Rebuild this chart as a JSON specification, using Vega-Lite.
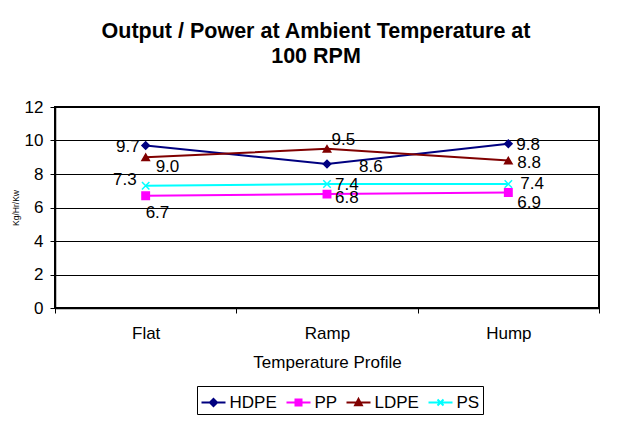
{
  "$schema": "https://vega.github.io/schema/vega-lite/v6.json",
  "width": 544,
  "height": 201,
  "autosize": {"type": "none"},
  "padding": {"left": 55, "top": 107, "right": 23, "bottom": 115},
  "background": "white",
  "config": {
    "font": "Liberation Sans",
    "view": {"stroke": "black", "strokeWidth": 2},
    "axis": {"labelColor": "black", "titleColor": "black", "labelFont": "Liberation Sans", "titleFont": "Liberation Sans"}
  },
  "title": {
    "text": ["Output / Power at Ambient Temperature at", "100 RPM"],
    "fontSize": 21.5,
    "fontWeight": "bold",
    "color": "black",
    "lineHeight": 25,
    "anchor": "middle",
    "dx": -11,
    "offset": 31
  },
  "data": {
    "values": [
      {"series": "HDPE", "profile": "Flat", "value": 9.7},
      {"series": "HDPE", "profile": "Ramp", "value": 8.6},
      {"series": "HDPE", "profile": "Hump", "value": 9.8},
      {"series": "PP", "profile": "Flat", "value": 6.7},
      {"series": "PP", "profile": "Ramp", "value": 6.8},
      {"series": "PP", "profile": "Hump", "value": 6.9},
      {"series": "LDPE", "profile": "Flat", "value": 9.0},
      {"series": "LDPE", "profile": "Ramp", "value": 9.5},
      {"series": "LDPE", "profile": "Hump", "value": 8.8},
      {"series": "PS", "profile": "Flat", "value": 7.3},
      {"series": "PS", "profile": "Ramp", "value": 7.4},
      {"series": "PS", "profile": "Hump", "value": 7.4}
    ]
  },
  "encoding": {
    "x": {
      "field": "profile",
      "type": "nominal",
      "bandPosition": 0.5,
      "scale": {"type": "band", "domain": ["Flat", "Ramp", "Hump"], "paddingInner": 0, "paddingOuter": 0},
      "axis": {
        "title": "Temperature Profile",
        "tickBand": "extent",
        "labelAngle": 0,
        "grid": false,
        "domainColor": "black",
        "domainWidth": 1.5,
        "tickColor": "black",
        "tickWidth": 1,
        "tickSize": 5,
        "labelPadding": 12,
        "labelFontSize": 17,
        "titleFontSize": 17,
        "titleFontWeight": "normal",
        "titlePadding": 13
      }
    },
    "y": {
      "field": "value",
      "type": "quantitative",
      "scale": {"domain": [0, 12], "nice": false},
      "axis": {
        "title": "Kg/Hr/Kw",
        "titleFontSize": 8.5,
        "titleFontWeight": "normal",
        "titlePadding": 4,
        "values": [0, 2, 4, 6, 8, 10, 12],
        "grid": true,
        "gridColor": "black",
        "gridWidth": 1.2,
        "gridOpacity": 1,
        "domainColor": "black",
        "domainWidth": 1.5,
        "tickColor": "black",
        "tickSize": 5,
        "labelPadding": 7,
        "labelFontSize": 17
      }
    }
  },
  "layer": [
    {
      "mark": {"type": "line", "strokeWidth": 2},
      "encoding": {
        "color": {"field": "series", "type": "nominal", "scale": {"domain": ["HDPE", "PP", "LDPE", "PS"], "range": ["#000080", "#FF00FF", "#800000", "#00FFFF"]}, "legend": null}
      }
    },
    {
      "mark": {"type": "point", "filled": true, "size": 55, "strokeWidth": 1.5, "opacity": 1},
      "encoding": {
        "color": {"field": "series", "type": "nominal", "scale": {"domain": ["HDPE", "PP", "LDPE", "PS"], "range": ["#000080", "#FF00FF", "#800000", "#00FFFF"]}, "legend": null},
        "stroke": {"field": "series", "type": "nominal", "scale": {"domain": ["HDPE", "PP", "LDPE", "PS"], "range": ["#000080", "#FF00FF", "#800000", "#00FFFF"]}, "legend": null},
        "shape": {"field": "series", "type": "nominal", "scale": {"domain": ["HDPE", "PP", "LDPE", "PS"], "range": ["diamond", "square", "triangle-up", "M-1,-1L1,1M-1,1L1,-1"]}, "legend": null}
      }
    },
    {"transform": [{"filter": "datum.series=='HDPE' && datum.profile=='Flat'"}], "mark": {"type": "text", "align": "right", "baseline": "middle", "dx": -6, "dy": 1, "fontSize": 17, "color": "black"}, "encoding": {"text": {"field": "value", "format": ".1f"}}},
    {"transform": [{"filter": "datum.series=='HDPE' && datum.profile=='Ramp'"}], "mark": {"type": "text", "align": "left", "baseline": "middle", "dx": 32, "dy": 3, "fontSize": 17, "color": "black"}, "encoding": {"text": {"field": "value", "format": ".1f"}}},
    {"transform": [{"filter": "datum.series=='HDPE' && datum.profile=='Hump'"}], "mark": {"type": "text", "align": "left", "baseline": "middle", "dx": 8, "dy": 1.5, "fontSize": 17, "color": "black"}, "encoding": {"text": {"field": "value", "format": ".1f"}}},
    {"transform": [{"filter": "datum.series=='PP' && datum.profile=='Flat'"}], "mark": {"type": "text", "align": "left", "baseline": "middle", "dx": 0, "dy": 17, "fontSize": 17, "color": "black"}, "encoding": {"text": {"field": "value", "format": ".1f"}}},
    {"transform": [{"filter": "datum.series=='PP' && datum.profile=='Ramp'"}], "mark": {"type": "text", "align": "left", "baseline": "middle", "dx": 8, "dy": 3.5, "fontSize": 17, "color": "black"}, "encoding": {"text": {"field": "value", "format": ".1f"}}},
    {"transform": [{"filter": "datum.series=='PP' && datum.profile=='Hump'"}], "mark": {"type": "text", "align": "left", "baseline": "middle", "dx": 9, "dy": 10.5, "fontSize": 17, "color": "black"}, "encoding": {"text": {"field": "value", "format": ".1f"}}},
    {"transform": [{"filter": "datum.series=='LDPE' && datum.profile=='Flat'"}], "mark": {"type": "text", "align": "left", "baseline": "middle", "dx": 10, "dy": 9.5, "fontSize": 17, "color": "black"}, "encoding": {"text": {"field": "value", "format": ".1f"}}},
    {"transform": [{"filter": "datum.series=='LDPE' && datum.profile=='Ramp'"}], "mark": {"type": "text", "align": "left", "baseline": "middle", "dx": 4.5, "dy": -8.5, "fontSize": 17, "color": "black"}, "encoding": {"text": {"field": "value", "format": ".1f"}}},
    {"transform": [{"filter": "datum.series=='LDPE' && datum.profile=='Hump'"}], "mark": {"type": "text", "align": "left", "baseline": "middle", "dx": 9, "dy": 2, "fontSize": 17, "color": "black"}, "encoding": {"text": {"field": "value", "format": ".1f"}}},
    {"transform": [{"filter": "datum.series=='PS' && datum.profile=='Flat'"}], "mark": {"type": "text", "align": "right", "baseline": "middle", "dx": -9, "dy": -5.5, "fontSize": 17, "color": "black"}, "encoding": {"text": {"field": "value", "format": ".1f"}}},
    {"transform": [{"filter": "datum.series=='PS' && datum.profile=='Ramp'"}], "mark": {"type": "text", "align": "left", "baseline": "middle", "dx": 8, "dy": 1, "fontSize": 17, "color": "black"}, "encoding": {"text": {"field": "value", "format": ".1f"}}},
    {"transform": [{"filter": "datum.series=='PS' && datum.profile=='Hump'"}], "mark": {"type": "text", "align": "left", "baseline": "middle", "dx": 12, "dy": -0.5, "fontSize": 17, "color": "black"}, "encoding": {"text": {"field": "value", "format": ".1f"}}},
    {
      "transform": [{"filter": "false"}],
      "mark": {"type": "point", "filled": true, "strokeWidth": 2},
      "encoding": {
        "color": {"field": "series", "type": "nominal", "scale": {"domain": ["HDPE", "PP", "LDPE", "PS"], "range": ["#000080", "#FF00FF", "#800000", "#00FFFF"]},
          "legend": {"title": null, "orient": "none", "legendX": 142, "legendY": 279, "direction": "horizontal", "columns": 4, "padding": 3.5, "strokeColor": "black", "fillColor": "white", "symbolSize": 576, "symbolStrokeWidth": 2, "labelFontSize": 17, "labelColor": "black", "labelOffset": 3, "columnPadding": 5, "symbolOpacity": 1}},
        "stroke": {"field": "series", "type": "nominal", "scale": {"domain": ["HDPE", "PP", "LDPE", "PS"], "range": ["#000080", "#FF00FF", "#800000", "#00FFFF"]},
          "legend": {"title": null, "orient": "none", "legendX": 142, "legendY": 279, "direction": "horizontal", "columns": 4, "padding": 3.5, "strokeColor": "black", "fillColor": "white", "symbolSize": 576, "symbolStrokeWidth": 2, "labelFontSize": 17, "labelColor": "black", "labelOffset": 3, "columnPadding": 5, "symbolOpacity": 1}},
        "shape": {"field": "series", "type": "nominal", "scale": {"domain": ["HDPE", "PP", "LDPE", "PS"], "range": ["M-1,0H1M0,-0.3L0.3,0L0,0.3L-0.3,0Z", "M-1,0H1M-0.25,-0.25H0.25V0.25H-0.25Z", "M-1,0H1M0,-0.3L0.28,0.22H-0.28Z", "M-1,0H1M-0.25,-0.25L0.25,0.25M-0.25,0.25L0.25,-0.25"]},
          "legend": {"title": null, "orient": "none", "legendX": 142, "legendY": 279, "direction": "horizontal", "columns": 4, "padding": 3.5, "strokeColor": "black", "fillColor": "white", "symbolSize": 576, "symbolStrokeWidth": 2, "labelFontSize": 17, "labelColor": "black", "labelOffset": 3, "columnPadding": 5, "symbolOpacity": 1}}
      }
    }
  ],
  "resolve": {"scale": {"color": "independent", "shape": "independent", "stroke": "independent"}}
}
